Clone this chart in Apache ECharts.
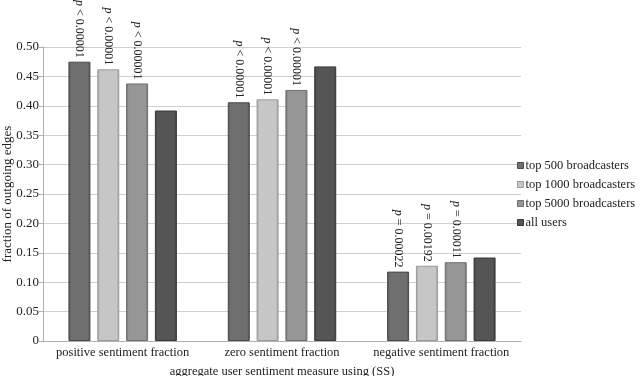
<!DOCTYPE html>
<html>
<head>
<meta charset="utf-8">
<script src="https://cdn.jsdelivr.net/npm/echarts@6/dist/echarts.min.js"></script>
<style>
  html, body { margin: 0; padding: 0; background: #fff; }
  #container { width: 640px; height: 376px; }
</style>
</head>
<body>
<div id="container"></div>
<script>
  // categories / series / labels
  var categories = ['positive sentiment fraction', 'zero sentiment fraction', 'negative sentiment fraction'];
  var seriesNames = ['top 500 broadcasters', 'top 1000 broadcasters', 'top 5000 broadcasters', 'all users'];
  var top500 = [0.475, 0.406, 0.118];
  var top1000 = [0.462, 0.411, 0.128];
  var top5000 = [0.438, 0.427, 0.134];
  var allUsers = [0.392, 0.467, 0.142];
  var pTop500 = ['< 0.00001', '< 0.00001', '= 0.00022'];
  var pTop1000 = ['< 0.00001', '< 0.00001', '= 0.00192'];
  var pTop5000 = ['< 0.00001', '< 0.00001', '= 0.00011'];
  var yTicks = [0, 0.05, 0.10, 0.15, 0.20, 0.25, 0.30, 0.35, 0.40, 0.45, 0.50];

  var FONT = '"Liberation Serif", "DejaVu Serif", serif';
  var baseColors = ['#6f6f6f', '#c6c6c6', '#969696', '#555555'];
  var edgeColors = ['#4a4a4a', '#9a9a9a', '#6e6e6e', '#383838'];

  // bars look a bit 3d: darker left/right edges
  function barFill (i) {
    return {
      type: 'linear', x: 0, y: 0, x2: 1, y2: 0,
      colorStops: [
        {offset: 0, color: edgeColors[i]},
        {offset: 0.12, color: baseColors[i]},
        {offset: 0.88, color: baseColors[i]},
        {offset: 1, color: edgeColors[i]}
      ]
    };
  }

  function makeSeries (i, values, pvals) {
    var s = {
      name: seriesNames[i],
      type: 'bar',
      barWidth: 22,
      barGap: '31%',
      itemStyle: {
        color: barFill(i),
        borderColor: edgeColors[i],
        borderWidth: 1
      },
      data: values
    };
    if (pvals) {
      s.label = {
        show: true,
        position: 'top',
        rotate: -90,
        align: 'right',
        verticalAlign: 'middle',
        distance: 4,
        fontFamily: FONT,
        fontSize: 12,
        color: '#222',
        formatter: function (p) {
          return '{i|p} ' + pvals[p.dataIndex];
        },
        rich: {
          i: {fontStyle: 'italic', fontFamily: FONT, fontSize: 12, color: '#222'}
        }
      };
    }
    return s;
  }

  var myChart = echarts.init(document.getElementById('container'));
  var option = {
    animation: false,
    backgroundColor: '#fff',
    color: baseColors,
    textStyle: {fontFamily: FONT},
    grid: {left: 43, right: 119, top: 47, bottom: 35, containLabel: false, outerBoundsMode: 'none'},
    legend: {
      orient: 'vertical',
      left: 517,
      top: 159,
      padding: 0,
      icon: 'rect',
      itemWidth: 6,
      itemHeight: 6,
      itemGap: 6,
      textStyle: {fontFamily: FONT, fontSize: 12.5, color: '#222', padding: [0, 0, 0, -3]},
      data: seriesNames.map(function (n, i) {
        return {name: n, itemStyle: {color: baseColors[i], borderColor: edgeColors[i], borderWidth: 1}};
      })
    },
    xAxis: {
      type: 'category',
      data: categories,
      name: 'aggregate user sentiment measure using (SS)',
      nameLocation: 'middle',
      nameGap: 24,
      nameTextStyle: {fontFamily: FONT, fontSize: 12.5, color: '#222'},
      axisLine: {lineStyle: {color: '#b0b0b0'}},
      axisTick: {show: false},
      axisLabel: {interval: 0, margin: 5, fontFamily: FONT, fontSize: 12.5, color: '#222'}
    },
    yAxis: {
      type: 'value',
      min: yTicks[0],
      max: yTicks[yTicks.length - 1],
      interval: 0.05,
      name: 'fraction of outgoing edges',
      nameLocation: 'middle',
      nameGap: 35,
      nameMoveOverlap: false,
      nameTextStyle: {fontFamily: FONT, fontSize: 13, color: '#222', verticalAlign: 'middle'},
      axisLine: {show: true, lineStyle: {color: '#b0b0b0'}},
      axisTick: {show: true, length: 4, lineStyle: {color: '#b0b0b0'}},
      splitLine: {lineStyle: {color: '#cfcfcf'}},
      axisLabel: {
        margin: 4,
        fontFamily: FONT,
        fontSize: 13,
        color: '#222',
        formatter: function (v) { return v === 0 ? '0' : v.toFixed(2); }
      }
    },
    series: [
      makeSeries(0, top500, pTop500),
      makeSeries(1, top1000, pTop1000),
      makeSeries(2, top5000, pTop5000),
      makeSeries(3, allUsers, null)
    ]
  };
  myChart.setOption(option);
</script>
</body>
</html>
